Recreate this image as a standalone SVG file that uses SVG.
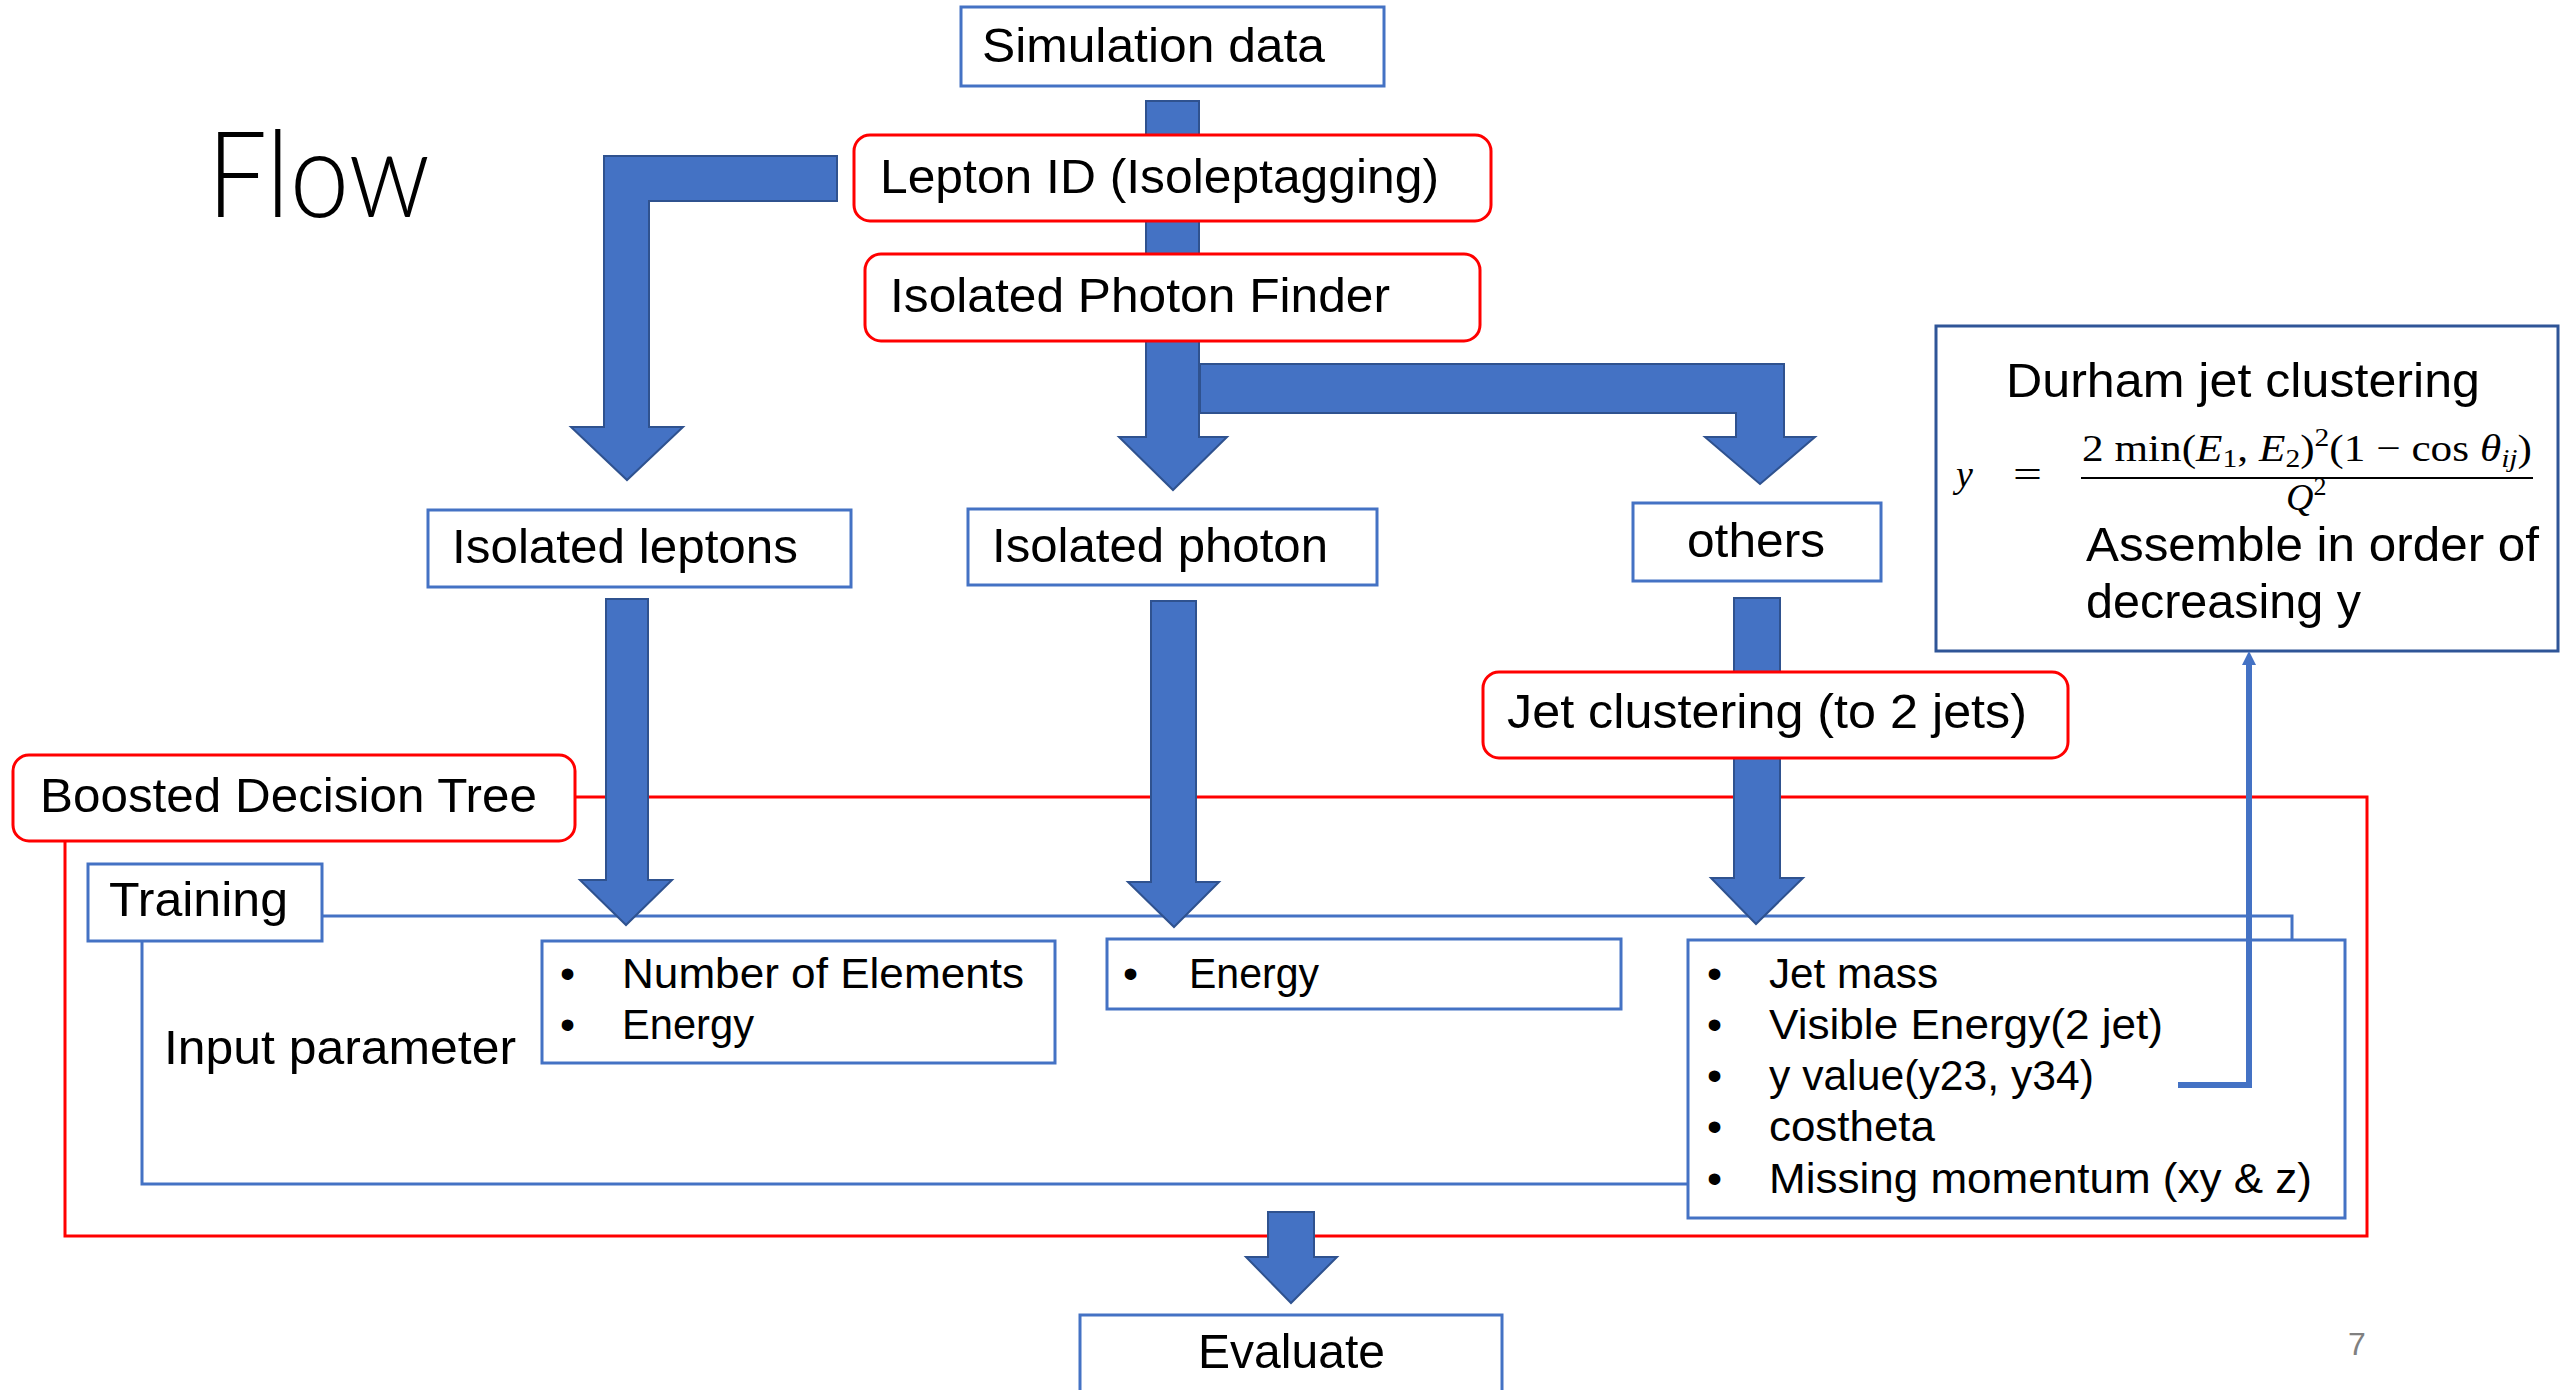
<svg xmlns="http://www.w3.org/2000/svg" width="2560" height="1390" viewBox="0 0 2560 1390">
<defs>
<style>
.t{font-family:"Liberation Sans",Arial,sans-serif;font-size:49px;fill:#000}
.b{font-family:"Liberation Sans",Arial,sans-serif;font-size:43px;fill:#000}
.m{font-family:"Liberation Serif","Times New Roman",serif;font-size:38px;fill:#000}
.bx{fill:#fff;stroke:#4472C4;stroke-width:3}
.rb{fill:#fff;stroke:#FF0000;stroke-width:3}
.ar{fill:#4472C4;stroke:#2F528F;stroke-width:2;stroke-linejoin:miter}
.frame-r{fill:none;stroke:#FF0000;stroke-width:3}
.frame-b{fill:none;stroke:#4472C4;stroke-width:3}
</style>
<marker id="tip" viewBox="0 0 10 10" refX="0" refY="5" markerWidth="14" markerHeight="14" markerUnits="userSpaceOnUse" orient="auto">
<path d="M0,0 L10,5 L0,10 z" fill="#4472C4"/>
</marker>
</defs>
<rect width="2560" height="1390" fill="#fff"/>

<text id="title" x="207" y="217" style="font-family:Lato,'Liberation Sans',sans-serif;font-weight:300;font-size:120px" textLength="223" lengthAdjust="spacingAndGlyphs">Flow</text>

<g id="bdt-frame">
<rect class="frame-r" x="65" y="797" width="2302" height="439"/>
</g>
<g id="training-frame">
<rect class="frame-b" x="142" y="916" width="2150" height="268"/>
</g>

<g id="connectors">
<polygon class="ar" points="837,156 604,156 604,427 571,427 627,480 683,427 649,427 649,201 837,201"/>
<polygon class="ar" points="1146,101 1199,101 1199,437 1227,437 1173,490 1119,437 1146,437"/>
<polygon class="ar" points="1200,364 1784,364 1784,437 1815,437 1760,484 1705,437 1736,437 1736,413 1200,413"/>
<polygon class="ar" points="606,599 648,599 648,880 672,880 626,925 580,880 606,880"/>
<polygon class="ar" points="1151,601 1196,601 1196,882 1219,882 1174,927 1128,882 1151,882"/>
<polygon class="ar" points="1734,598 1780,598 1780,878 1803,878 1756,924 1711,878 1734,878"/>
<polygon class="ar" points="1268,1212 1314,1212 1314,1257 1337,1257 1291,1303 1246,1257 1268,1257"/>
</g>

<g id="simulation-data">
<rect class="bx" x="961" y="7" width="423" height="79"/>
<text class="t" x="982" y="62" textLength="343" lengthAdjust="spacingAndGlyphs">Simulation data</text>
</g>
<g id="lepton-id">
<rect class="rb" x="854" y="135" width="637" height="86" rx="16"/>
<text class="t" x="880" y="193" textLength="559" lengthAdjust="spacingAndGlyphs">Lepton ID (Isoleptagging)</text>
</g>
<g id="photon-finder">
<rect class="rb" x="865" y="254" width="615" height="87" rx="16"/>
<text class="t" x="890" y="312" textLength="500" lengthAdjust="spacingAndGlyphs">Isolated Photon Finder</text>
</g>
<g id="isolated-leptons">
<rect class="bx" x="428" y="510" width="423" height="77"/>
<text class="t" x="452" y="563" textLength="346" lengthAdjust="spacingAndGlyphs">Isolated leptons</text>
</g>
<g id="isolated-photon">
<rect class="bx" x="968" y="509" width="409" height="76"/>
<text class="t" x="992" y="562" textLength="336" lengthAdjust="spacingAndGlyphs">Isolated photon</text>
</g>
<g id="others">
<rect class="bx" x="1633" y="503" width="248" height="78"/>
<text class="t" x="1687" y="557" textLength="138" lengthAdjust="spacingAndGlyphs">others</text>
</g>
<g id="durham">
<rect x="1936" y="326" width="622" height="325" fill="#fff" stroke="#2F5597" stroke-width="3"/>
<text class="t" x="2006" y="397" textLength="474" lengthAdjust="spacingAndGlyphs">Durham jet clustering</text>
<text class="m" x="1956" y="487" font-style="italic">y</text>
<text class="m" x="2013" y="487" textLength="29" lengthAdjust="spacingAndGlyphs">=</text>
<text class="m" x="2082" y="461" textLength="450" lengthAdjust="spacingAndGlyphs">2 min(<tspan font-style="italic">E</tspan><tspan font-size="26" dy="6">1</tspan><tspan dy="-6">, </tspan><tspan font-style="italic">E</tspan><tspan font-size="26" dy="6">2</tspan><tspan dy="-6">)</tspan><tspan font-size="26" dy="-15">2</tspan><tspan dy="15">(1 − cos </tspan><tspan font-style="italic">θ</tspan><tspan font-size="26" font-style="italic" dy="6">ij</tspan><tspan dy="-6">)</tspan></text>
<line x1="2081" y1="478" x2="2533" y2="478" stroke="#000" stroke-width="2"/>
<text class="m" x="2286" y="510"><tspan font-style="italic">Q</tspan><tspan font-size="26" dy="-15">2</tspan></text>
<text class="t" x="2086" y="561" textLength="453" lengthAdjust="spacingAndGlyphs">Assemble in order of</text>
<text class="t" x="2086" y="618" textLength="275" lengthAdjust="spacingAndGlyphs">decreasing y</text>
</g>
<g id="jet-clustering">
<rect class="rb" x="1483" y="672" width="585" height="86" rx="16"/>
<text class="t" x="1507" y="728" textLength="520" lengthAdjust="spacingAndGlyphs">Jet clustering (to 2 jets)</text>
</g>
<g id="bdt">
<rect class="rb" x="13" y="755" width="562" height="86" rx="16"/>
<text class="t" x="40" y="812" textLength="497" lengthAdjust="spacingAndGlyphs">Boosted Decision Tree</text>
</g>
<g id="training">
<rect class="bx" x="88" y="864" width="234" height="77"/>
<text class="t" x="109" y="916" textLength="179" lengthAdjust="spacingAndGlyphs">Training</text>
</g>
<g id="input-parameter">
<text class="t" x="164" y="1064" textLength="352" lengthAdjust="spacingAndGlyphs">Input parameter</text>
</g>
<g id="lepton-params">
<rect class="bx" x="542" y="941" width="513" height="122"/>
<text class="b" x="560" y="988">•</text>
<text class="b" x="622" y="988" textLength="402" lengthAdjust="spacingAndGlyphs">Number of Elements</text>
<text class="b" x="560" y="1039">•</text>
<text class="b" x="622" y="1039" textLength="132" lengthAdjust="spacingAndGlyphs">Energy</text>
</g>
<g id="photon-params">
<rect class="bx" x="1107" y="939" width="514" height="70"/>
<text class="b" x="1123" y="988">•</text>
<text class="b" x="1189" y="988" textLength="130" lengthAdjust="spacingAndGlyphs">Energy</text>
</g>
<g id="jet-params">
<rect class="bx" x="1688" y="940" width="657" height="278"/>
<text class="b" x="1707" y="988">•</text>
<text class="b" x="1769" y="988" textLength="169" lengthAdjust="spacingAndGlyphs">Jet mass</text>
<text class="b" x="1707" y="1039">•</text>
<text class="b" x="1769" y="1039" textLength="394" lengthAdjust="spacingAndGlyphs">Visible Energy(2 jet)</text>
<text class="b" x="1707" y="1090">•</text>
<text class="b" x="1769" y="1090" textLength="325" lengthAdjust="spacingAndGlyphs">y value(y23, y34)</text>
<text class="b" x="1707" y="1141">•</text>
<text class="b" x="1769" y="1141" textLength="166" lengthAdjust="spacingAndGlyphs">costheta</text>
<text class="b" x="1707" y="1193">•</text>
<text class="b" x="1769" y="1193" textLength="543" lengthAdjust="spacingAndGlyphs">Missing momentum (xy &amp; z)</text>
</g>
<g id="evaluate">
<rect class="bx" x="1080" y="1315" width="422" height="90"/>
<text class="t" x="1198" y="1368" textLength="187" lengthAdjust="spacingAndGlyphs">Evaluate</text>
</g>

<g id="connectors-top">
<polyline points="2178,1085 2249,1085 2249,665" fill="none" stroke="#4472C4" stroke-width="6" marker-end="url(#tip)"/>
</g>

<text id="page" x="2348" y="1355" style="font-family:'Liberation Sans',Arial,sans-serif;font-size:32px;fill:#808080">7</text>
</svg>
